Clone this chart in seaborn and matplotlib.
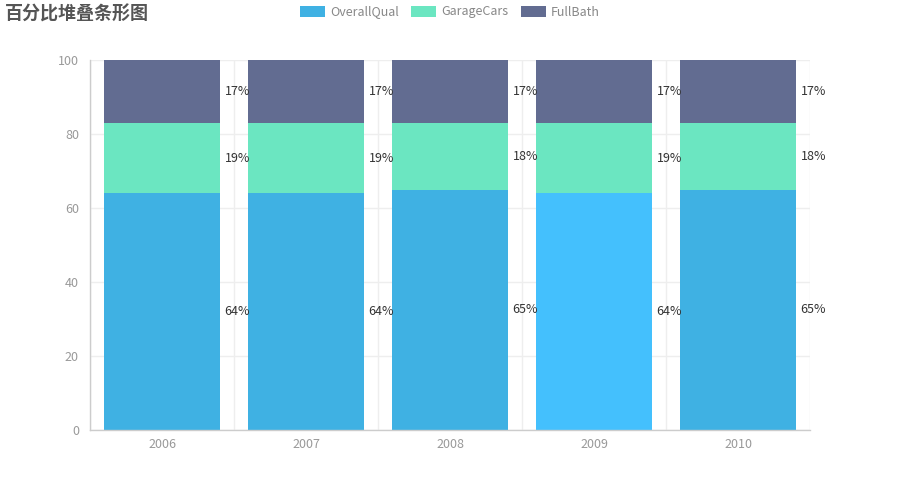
import matplotlib
matplotlib.use("Agg")
import matplotlib.pyplot as plt
import seaborn as sns
import pandas as pd
import numpy as np
from matplotlib.patches import Patch

years = ["2006", "2007", "2008", "2009", "2010"]
overall_qual = [64, 64, 65, 64, 65]
garage_cars = [19, 19, 18, 19, 18]
full_bath = [17, 17, 17, 17, 17]
series_names = ["OverallQual", "GarageCars", "FullBath"]
colors = ["#3fb1e3", "#6be6c1", "#626c91"]
highlight_color = "#44c0fd"  # 2009 bar shown highlighted
highlight_year = "2009"

sns.set_theme(style="white")
plt.rcParams['font.family'] = ['Noto Sans CJK SC', 'DejaVu Sans']

df = pd.DataFrame({"year": years, "OverallQual": overall_qual,
                   "GarageCars": garage_cars, "FullBath": full_bath})
df["c1"] = df["OverallQual"]
df["c2"] = df["c1"] + df["GarageCars"]
df["c3"] = df["c2"] + df["FullBath"]

fig = plt.figure(figsize=(9, 5), dpi=100)
ax = fig.add_axes([0.1, 0.14, 0.8, 0.74])

sns.barplot(data=df, x="year", y="c3", color=colors[2], width=0.8,
            linewidth=0, saturation=1, ax=ax, zorder=3)
sns.barplot(data=df, x="year", y="c2", color=colors[1], width=0.8,
            linewidth=0, saturation=1, ax=ax, zorder=3)
pal = {y: (highlight_color if y == highlight_year else colors[0]) for y in years}
sns.barplot(data=df, x="year", y="c1", hue="year", palette=pal, legend=False,
            width=0.8, linewidth=0, saturation=1, ax=ax, zorder=3)

# labels
for i, row in df.iterrows():
    segs = [(0, row["c1"], row["OverallQual"]),
            (row["c1"], row["c2"], row["GarageCars"]),
            (row["c2"], row["c3"], row["FullBath"])]
    for lo, hi, v in segs:
        ax.text(i + 0.435, (lo + hi) / 2, f"{v}%", ha="left", va="center",
                fontsize=9, color="#333333", zorder=5)

ax.set_xlim(-0.5, len(years) - 0.5)
ax.set_ylim(0, 100)
ax.set_yticks([0, 20, 40, 60, 80, 100])
ax.set_xlabel("")
ax.set_ylabel("")
ax.set_xticks(range(len(years)))
ax.set_xticklabels(years)
ax.set_xticks(np.arange(-0.5, len(years), 1), minor=True)
ax.tick_params(axis="both", which="both", length=0, labelsize=9, labelcolor="#999999")
ax.tick_params(axis="x", pad=6)
ax.tick_params(axis="y", pad=8)
ax.grid(axis="y", which="major", color="#eeeeee", linewidth=1, zorder=0)
ax.grid(axis="x", which="minor", color="#eeeeee", linewidth=1, zorder=0)
ax.grid(axis="x", which="major", visible=False)
for s in ["top", "right"]:
    ax.spines[s].set_visible(False)
for s in ["left", "bottom"]:
    ax.spines[s].set_color("#cccccc")
    ax.spines[s].set_linewidth(1)
    ax.spines[s].set_zorder(4)

fig.text(0.006, 0.972, "百分比堆叠条形图", fontsize=13, fontweight="bold",
         color="#555555", ha="left", va="center")

handles = [Patch(facecolor=c, edgecolor="none") for c in colors]
leg = fig.legend(handles, series_names, loc="center", bbox_to_anchor=(0.5, 0.976),
                 ncol=3, frameon=False, fontsize=9, handlelength=2.0,
                 handleheight=1.0, handletextpad=0.4, columnspacing=1.0)
for t in leg.get_texts():
    t.set_color("#888888")

fig.savefig("out.png", dpi=100)
